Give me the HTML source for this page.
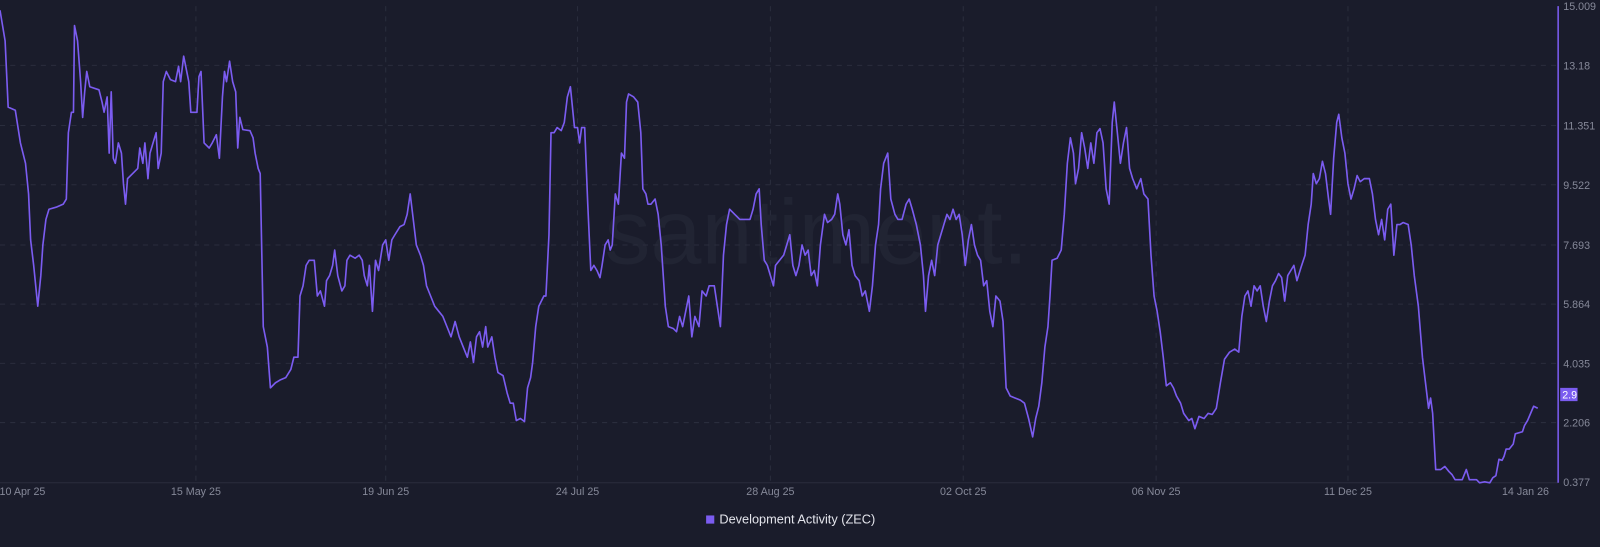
<!DOCTYPE html>
<html><head><meta charset="utf-8"><style>
html,body{margin:0;padding:0;background:#1a1c2b;overflow:hidden;width:1600px;height:542px}
#w{position:absolute;left:0;top:0;width:1568px;height:531px;transform:scale(1.0204,1.0207);transform-origin:0 0}
svg text{font-family:"Liberation Sans",sans-serif}
</style></head><body><div id="w">
<svg width="1568" height="531" viewBox="0 0 1568 531" xmlns="http://www.w3.org/2000/svg">
<rect width="1568" height="531" fill="#1a1c2b"/>
<text x="800" y="258" text-anchor="middle" font-size="90" fill="#212433">santiment.</text>
<g stroke="#2a2d3d" stroke-width="1" stroke-dasharray="5,5">
<line x1="0" x2="1527" y1="64" y2="64"/><line x1="0" x2="1527" y1="123" y2="123"/>
<line x1="0" x2="1527" y1="181" y2="181"/><line x1="0" x2="1527" y1="240" y2="240"/>
<line x1="0" x2="1527" y1="298" y2="298"/><line x1="0" x2="1527" y1="356" y2="356"/>
<line x1="0" x2="1527" y1="414" y2="414"/>
<line x1="192" x2="192" y1="6" y2="472"/><line x1="378" x2="378" y1="6" y2="472"/>
<line x1="566" x2="566" y1="6" y2="472"/><line x1="755" x2="755" y1="6" y2="472"/>
<line x1="944" x2="944" y1="6" y2="472"/><line x1="1133" x2="1133" y1="6" y2="472"/>
<line x1="1321" x2="1321" y1="6" y2="472"/>
</g>
<line x1="0" x2="1527" y1="473" y2="473" stroke="#2a2d3d"/>
<line x1="1527" x2="1527" y1="6" y2="473" stroke="#7b5cf0" stroke-width="1.5"/>
<g font-size="10.5" fill="#868999">
<text x="1532" y="10">15.009</text><text x="1532" y="68">13.18</text><text x="1532" y="127">11.351</text>
<text x="1532" y="185">9.522</text><text x="1532" y="244">7.693</text><text x="1532" y="302">5.864</text>
<text x="1532" y="360">4.035</text><text x="1532" y="418">2.206</text><text x="1532" y="476">0.377</text>
</g>
<g font-size="10.5" fill="#868999" text-anchor="middle">
<text x="22" y="485">10 Apr 25</text><text x="192" y="485">15 May 25</text><text x="378" y="485">19 Jun 25</text>
<text x="566" y="485">24 Jul 25</text><text x="755" y="485">28 Aug 25</text><text x="944" y="485">02 Oct 25</text>
<text x="1133" y="485">06 Nov 25</text><text x="1321" y="485">11 Dec 25</text><text x="1495" y="485">14 Jan 26</text>
</g>
<rect x="1529" y="380" width="17" height="13" fill="#7b5cf0"/>
<text x="1531" y="390.5" font-size="10.5" fill="#ffffff">2.9</text>
<polyline fill="none" stroke="#7b5cf0" stroke-width="1.6" stroke-linejoin="round" points="0,10 5,40 8,105 15,108 20,140 25,160 28,190 30,235 33,260 37,300 40,270 42,240 45,215 48,205 55,203 62,200 65,195 67,130 70,110 72,110 73,25 76,40 79,80 81,115 83,90 85,70 88,85 97,88 100,100 102,110 105,95 107,150 109,90 111,155 113,160 116,140 119,150 121,180 123,200 125,175 130,170 135,165 137,145 140,160 142,140 145,175 147,150 150,140 153,130 155,165 158,150 160,80 163,70 167,78 172,80 175,65 177,80 180,55 183,70 185,80 187,110 193,110 195,75 197,70 200,140 205,145 208,140 212,132 215,155 218,95 220,70 222,80 225,60 228,80 231,90 233,145 235,115 238,127 245,128 248,135 250,150 253,165 255,170 258,320 262,340 265,380 270,375 275,372 280,370 285,362 288,350 292,350 294,290 297,280 300,260 303,255 308,255 311,290 314,285 318,300 320,275 323,270 326,260 328,245 331,270 335,285 338,280 340,255 343,250 348,253 352,250 355,255 357,270 360,280 362,260 365,305 368,255 371,265 375,240 378,235 381,255 384,235 387,230 392,222 396,220 399,210 402,190 405,215 408,240 412,250 415,260 418,280 422,290 426,300 430,305 434,310 438,320 442,330 446,315 450,330 454,340 458,350 461,335 464,355 467,330 470,325 473,340 476,320 478,340 482,330 485,350 488,365 493,368 497,385 500,395 503,395 506,412 510,410 514,413 517,380 520,370 522,355 525,320 528,300 533,290 535,290 538,230 540,130 543,130 546,125 550,128 553,120 556,95 559,85 563,125 566,125 568,140 570,125 573,125 576,200 579,265 582,260 585,265 588,272 590,260 593,240 596,235 598,245 600,240 603,190 606,200 609,150 612,155 614,100 616,92 621,95 625,100 628,130 630,185 633,190 635,200 638,200 642,195 645,210 648,240 652,300 655,320 660,322 663,325 666,310 669,320 672,305 675,290 678,330 681,310 685,320 688,285 692,290 695,280 700,280 703,300 706,320 709,250 712,220 715,205 720,210 725,215 730,215 735,215 738,205 741,190 744,185 746,220 749,255 752,260 755,270 758,280 760,260 764,255 768,250 771,240 774,230 777,260 780,270 783,260 786,240 789,250 792,245 795,270 798,265 801,280 804,240 808,210 811,218 815,215 818,210 821,190 823,200 826,230 829,240 832,225 835,260 838,270 842,275 845,290 848,285 852,305 855,280 858,240 861,220 863,185 866,160 870,150 873,195 877,210 880,215 884,215 888,200 891,195 894,205 898,220 902,240 905,270 907,305 910,270 913,255 916,270 919,240 922,230 925,220 928,210 931,215 934,205 937,215 940,210 943,230 946,260 949,235 952,220 955,240 958,250 961,255 964,280 967,275 970,305 973,320 976,290 980,295 983,315 986,380 990,388 995,390 1000,392 1004,395 1008,410 1012,428 1015,410 1018,398 1021,375 1024,340 1027,320 1029,290 1031,255 1036,253 1040,245 1043,210 1046,160 1049,135 1052,150 1054,180 1057,165 1060,130 1063,145 1066,165 1069,140 1072,160 1075,130 1078,126 1081,140 1084,185 1087,200 1090,120 1092,100 1095,130 1098,160 1101,140 1104,125 1107,165 1110,175 1114,185 1118,175 1121,190 1125,195 1128,250 1131,290 1134,305 1137,325 1140,350 1143,378 1147,375 1150,380 1153,388 1157,395 1160,405 1165,412 1168,410 1171,420 1175,408 1180,410 1184,405 1188,406 1192,400 1196,375 1200,352 1205,345 1210,342 1214,345 1217,310 1220,290 1223,285 1226,300 1229,280 1232,285 1235,280 1238,300 1241,315 1244,295 1247,280 1250,275 1253,268 1256,272 1259,295 1262,270 1265,265 1268,260 1271,275 1275,262 1279,250 1282,220 1285,200 1287,170 1290,180 1293,175 1296,158 1299,170 1302,195 1304,210 1307,155 1310,120 1312,112 1315,135 1318,150 1321,180 1324,195 1327,185 1330,172 1333,178 1337,175 1342,175 1345,190 1348,215 1351,230 1354,215 1357,235 1360,205 1363,200 1366,250 1369,220 1372,220 1375,218 1380,220 1383,240 1386,270 1390,300 1394,350 1397,375 1400,400 1402,390 1404,405 1407,460 1412,460 1416,457 1420,462 1423,465 1426,470 1433,470 1437,460 1440,470 1447,470 1450,473 1455,472 1460,473 1463,468 1466,466 1469,450 1472,451 1474,447 1476,440 1479,440 1483,435 1485,425 1492,423 1494,417 1497,412 1500,405 1503,398 1507,400"/>
<rect x="692" y="505" width="8" height="8" fill="#7b5cf0"/>
<text x="705" y="513" font-size="12.5" fill="#e4e5ec">Development Activity (ZEC)</text>
</svg></div></body></html>
